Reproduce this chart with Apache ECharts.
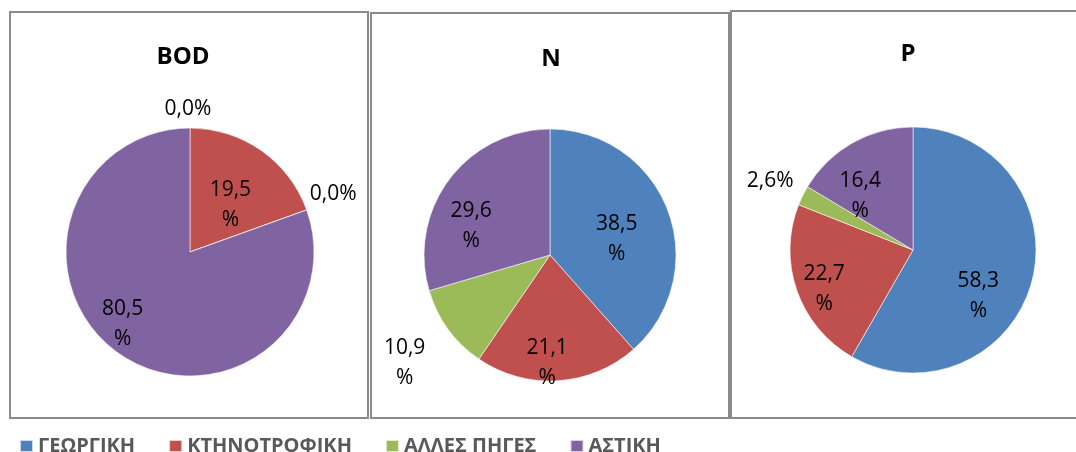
<!DOCTYPE html>
<html>
<head>
<meta charset="utf-8">
<script src="https://cdn.jsdelivr.net/npm/echarts@6/dist/echarts.min.js"></script>
<style>
html,body{margin:0;padding:0;background:#fff;}
#chart{width:1076px;height:452px;}
</style>
</head>
<body>
<div id="chart"></div>
<script>
// ---- data ----
const categories = ['ΓΕΩΡΓΙΚΗ', 'ΚΤΗΝΟΤΡΟΦΙΚΗ', 'ΑΛΛΕΣ ΠΗΓΕΣ', 'ΑΣΤΙΚΗ'];
const panelTitles = ['BOD', 'N', 'P'];
const bodValues = [0.0, 19.5, 0.0, 80.5];
const nValues = [38.5, 21.1, 10.9, 29.6];
const pValues = [58.3, 22.7, 2.6, 16.4];

// ---- styling / layout (not data) ----
const colors = ['#4F81BD', '#C0504D', '#9BBB59', '#8064A2'];
// labelShift: offset of each label from ECharts' default inside position (styling only)
const panels = [
  {box: [10, 12, 358, 406], center: [190, 252], radius: 124, title: [183, 57], labelShift: [[-2, -78], [3, 6], [82, -36], [-30, 19]]},
  {box: [371, 13, 358, 405], center: [550, 255], radius: 126, title: [551, 59], labelShift: [[5, 7], [-7, 42], [-92, 69], [-26, 11]]},
  {box: [731, 11, 360, 407], center: [913, 250], radius: 123, title: [908, 54], labelShift: [[3, 29], [-28, 18], [-85, -40], [-21, 2]]}
];
const seriesValues = [bodValues, nValues, pValues];

function fmt(v) {
  const s = v.toFixed(1).replace('.', ',');
  return v >= 10 ? s + '\n%' : s + '%';
}

const graphics = [];
panels.forEach((p, i) => {
  graphics.push({
    type: 'rect', silent: true, z: 0,
    shape: {x: p.box[0], y: p.box[1], width: p.box[2], height: p.box[3]},
    style: {fill: 'none', stroke: '#8a8a8a', lineWidth: 2}
  });
  graphics.push({
    type: 'text', silent: true, z: 10,
    x: p.title[0], y: p.title[1],
    style: {
      text: panelTitles[i], fill: '#000',
      font: 'bold 24px "Open Sans", sans-serif',
      align: 'center', verticalAlign: 'middle',
      textAlign: 'center', textVerticalAlign: 'middle'
    }
  });
});

const series = seriesValues.map((vals, i) => {
  const p = panels[i];
  return {
    type: 'pie',
    name: panelTitles[i],
    center: p.center,
    radius: p.radius,
    startAngle: 90,
    clockwise: true,
    avoidLabelOverlap: false,
    minShowLabelAngle: 0,
    silent: true,
    animation: false,
    itemStyle: {borderColor: 'rgba(255,255,255,0.7)', borderWidth: 0.8},
    label: {
      show: true, position: 'inside',
      color: '#000', fontSize: 21, lineHeight: 30,
      fontFamily: '"Open Sans", sans-serif',
      formatter: (prm) => fmt(prm.value)
    },
    labelLine: {show: false},
    labelLayout: (prm) => ({dx: p.labelShift[prm.dataIndex][0], dy: p.labelShift[prm.dataIndex][1]}),
    emphasis: {disabled: true},
    data: categories.map((c, k) => ({name: c, value: vals[k]}))
  };
});

const chart = echarts.init(document.getElementById('chart'), null, {renderer: 'canvas'});
chart.setOption({
  animation: false,
  color: colors,
  legend: {
    data: categories,
    left: 19, top: 436,
    padding: 0,
    icon: 'rect',
    itemWidth: 13, itemHeight: 12, itemGap: 33,
    selectedMode: false,
    textStyle: {color: '#595959', fontSize: 20, fontWeight: 'bold', fontFamily: '"Open Sans", sans-serif'}
  },
  graphic: graphics,
  series: series
});
</script>
</body>
</html>
